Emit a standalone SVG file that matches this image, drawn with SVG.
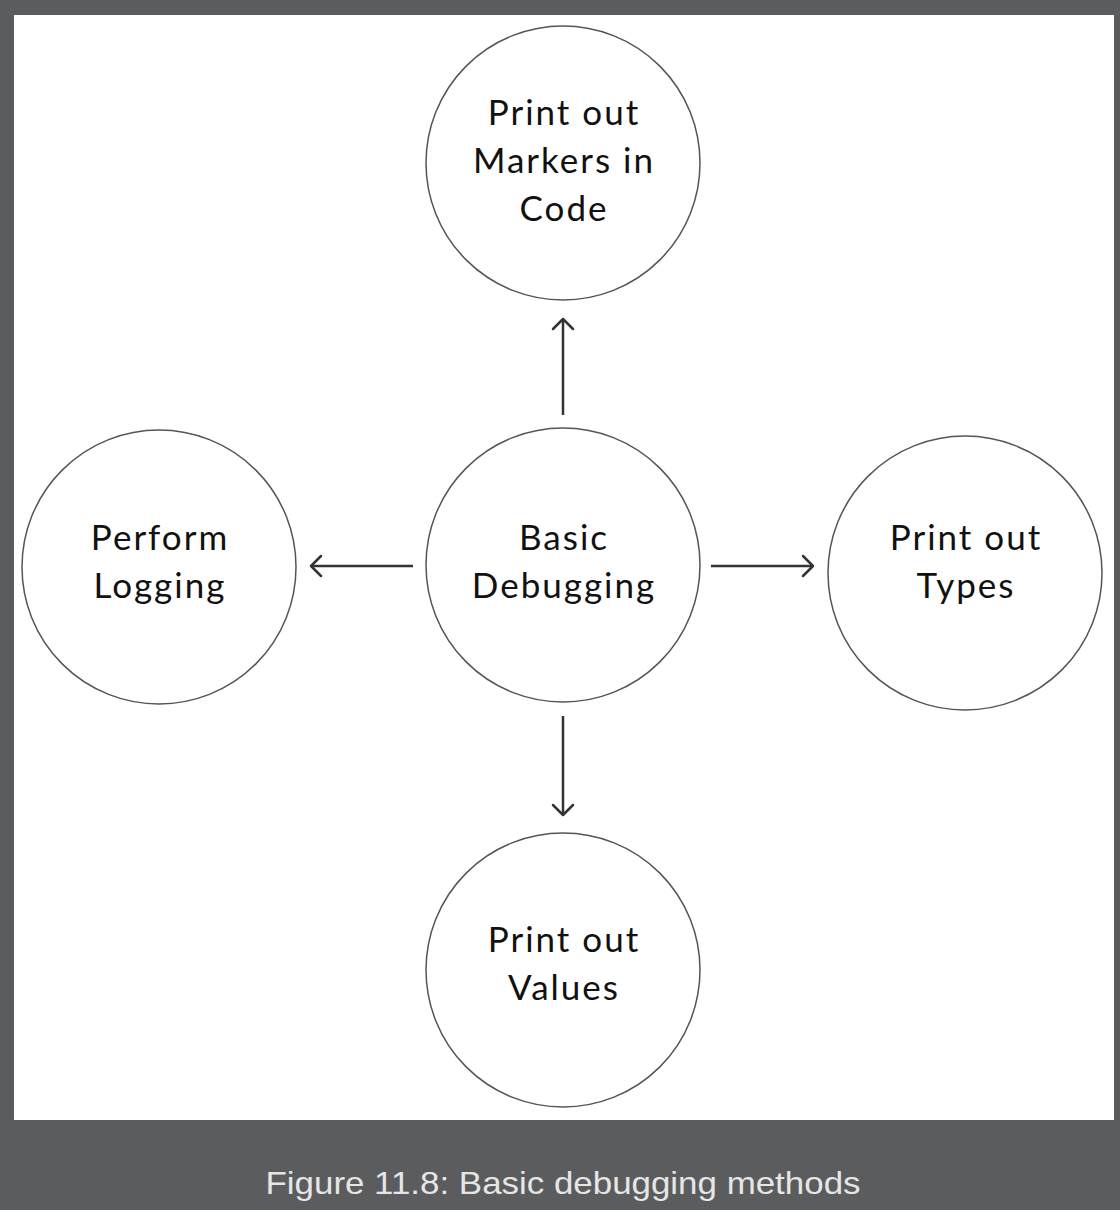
<svg xmlns="http://www.w3.org/2000/svg" width="1120" height="1210" viewBox="0 0 1120 1210">
<defs>
<style>
.node circle{fill:#fff;stroke:#555;stroke-width:1.5}
.node text{font-family:"Lato","DejaVu Sans",sans-serif;font-size:35px;letter-spacing:2px;fill:#111;text-anchor:middle}
.conn line{stroke:#333;stroke-width:2.5}
.conn polyline{fill:none;stroke:#333;stroke-width:2.5;stroke-linecap:round;stroke-linejoin:round}
.cap{font-family:"Liberation Sans",Arial,sans-serif;font-size:32px;fill:#e6e6e6;text-anchor:middle}
</style>
</defs>
<rect width="1120" height="1210" fill="#5b5c5e"/>
<rect x="14" y="15" width="1100" height="1105" fill="#fff"/>
<g id="n-top" class="node"><circle cx="563" cy="163" r="137"/>
<text x="564" y="125">Print out</text><text x="564" y="173">Markers in</text><text x="564" y="221">Code</text></g>
<g id="n-center" class="node"><circle cx="563" cy="565" r="137"/>
<text x="564" y="550">Basic</text><text x="564" y="598">Debugging</text></g>
<g id="n-left" class="node"><circle cx="159" cy="567" r="137"/>
<text x="160" y="550">Perform</text><text x="160" y="598">Logging</text></g>
<g id="n-right" class="node"><circle cx="965" cy="573" r="137"/>
<text x="966" y="550">Print out</text><text x="966" y="598">Types</text></g>
<g id="n-bottom" class="node"><circle cx="563" cy="970" r="137"/>
<text x="564" y="952">Print out</text><text x="564" y="1000">Values</text></g>
<g id="connectors" class="conn">
<line x1="563" y1="415" x2="563" y2="319"/><polyline points="553,329 563,319 573,329"/>
<line x1="413" y1="566" x2="311" y2="566"/><polyline points="321,556 311,566 321,576"/>
<line x1="711" y1="566" x2="813" y2="566"/><polyline points="803,556 813,566 803,576"/>
<line x1="563" y1="716" x2="563" y2="815"/><polyline points="553,805 563,815 573,805"/>
</g>
<text class="cap" x="563" y="1194" textLength="595" lengthAdjust="spacingAndGlyphs">Figure 11.8: Basic debugging methods</text>
</svg>
